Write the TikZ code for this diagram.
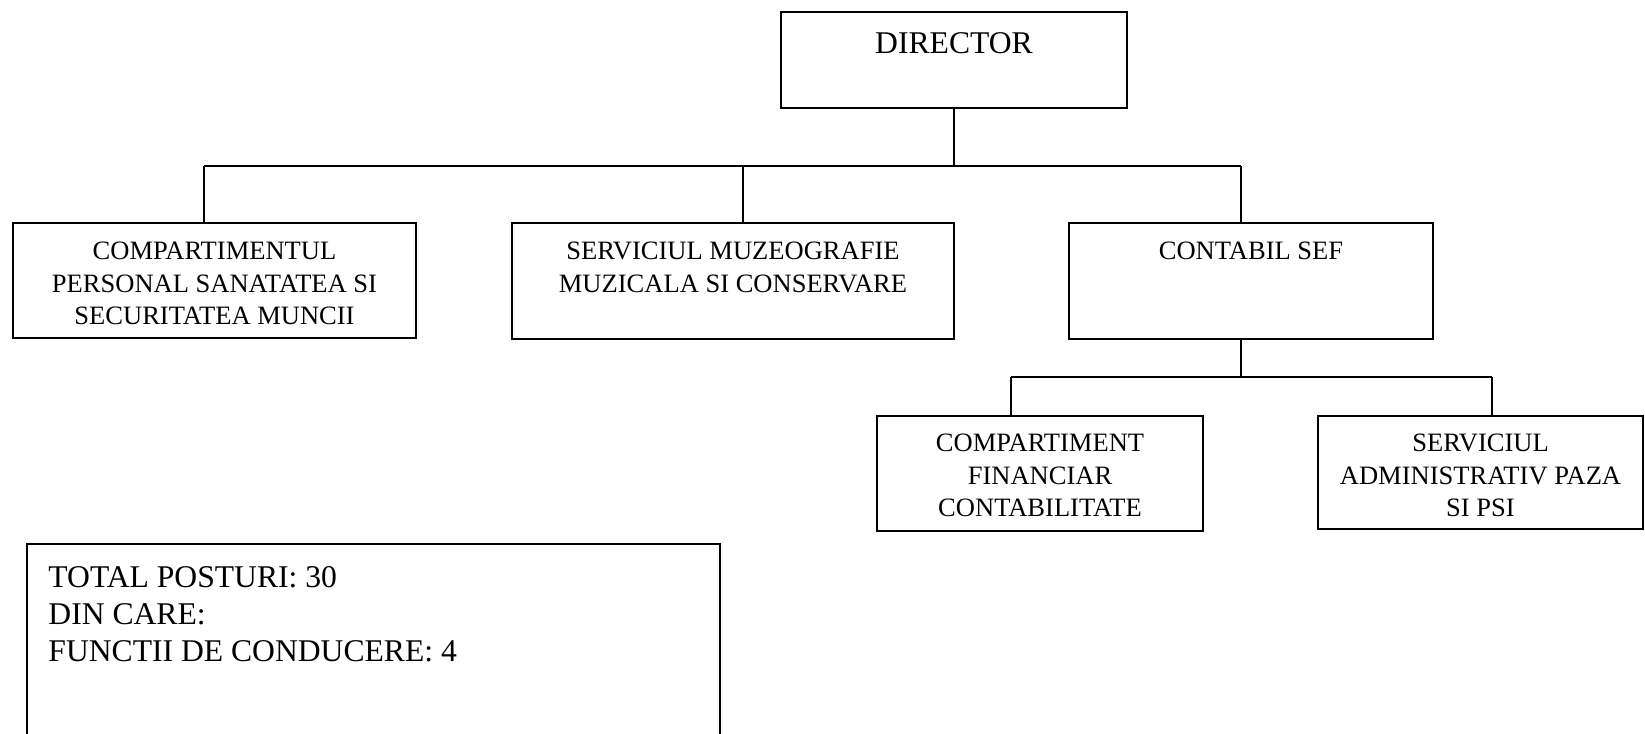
\documentclass[tikz,border=0pt]{standalone}
\usepackage{fontspec}
\setmainfont{Liberation Serif}

\begin{document}
\begin{tikzpicture}[x=0.02cm,y=-0.02cm,
  unit/.style={draw,line width=1.1pt,inner sep=0pt},
  conn/.style={line width=1.1pt},
  small/.style={anchor=north,align=center,inner sep=0pt,yshift=-0.4cm,
    font=\fontsize{15.1}{18.4}\selectfont},
  big/.style={anchor=north,align=center,inner sep=0pt,yshift=-0.42cm,
    font=\fontsize{18}{21.2}\selectfont}]
  \clip (0,0) rectangle (1645,733);
  %% director
  \node[unit,minimum width=6.92cm,minimum height=1.92cm,
    label={[big]north:DIRECTOR}] (dir) at (954,60) {};
  %% first level
  \node[unit,minimum width=8.06cm,minimum height=2.30cm,
    label={[small]north:COMPARTIMENTUL\\PERSONAL SANATATEA SI\\SECURITATEA MUNCII}]
    (pers) at (214.5,280.5) {};
  \node[unit,minimum width=8.84cm,minimum height=2.32cm,
    label={[small]north:SERVICIUL MUZEOGRAFIE\\MUZICALA SI CONSERVARE}]
    (muz) at (733,281) {};
  \node[unit,minimum width=7.28cm,minimum height=2.32cm,
    label={[small]north:CONTABIL SEF}] (cont) at (1251,281) {};
  %% under contabil sef
  \node[unit,minimum width=6.52cm,minimum height=2.30cm,
    label={[small,yshift=0.02cm]north:COMPARTIMENT\\FINANCIAR\\CONTABILITATE}]
    (fin) at (1040,473.5) {};
  \node[unit,minimum width=6.50cm,minimum height=2.26cm,
    label={[small,yshift=0.02cm]north:SERVICIUL\\ADMINISTRATIV PAZA\\SI PSI}]
    (adm) at (1480.5,472.5) {};
  %% totals
  \node[unit,minimum width=13.86cm,minimum height=4.72cm,
    label={[big,anchor=north west,align=left,xshift=0.44cm,yshift=-0.04cm]north west:{TOTAL POSTURI: 30\\DIN CARE:\\FUNCTII DE CONDUCERE: 4}}]
    (tot) at (373.5,662) {};
  % connectors from director
  \coordinate (bus) at (954,166);
  \coordinate (p1) at (204,166);
  \coordinate (p2) at (743,166);
  \coordinate (p3) at (1241,166);
  \draw[conn] (dir.south) -- (bus);
  \draw[conn] (p1) -- (p3);
  \draw[conn] (p1) -- (p1 |- pers.north);
  \draw[conn] (p2) -- (p2 |- muz.north);
  \draw[conn] (p3) -- (p3 |- cont.north);
  % connectors from contabil sef
  \coordinate (q) at (1241,377);
  \coordinate (q1) at (1011,377);
  \coordinate (q2) at (1492,377);
  \draw[conn] (q |- cont.south) -- (q);
  \draw[conn] (q1) -- (q2);
  \draw[conn] (q1) -- (q1 |- fin.north);
  \draw[conn] (q2) -- (q2 |- adm.north);
\end{tikzpicture}
\end{document}
